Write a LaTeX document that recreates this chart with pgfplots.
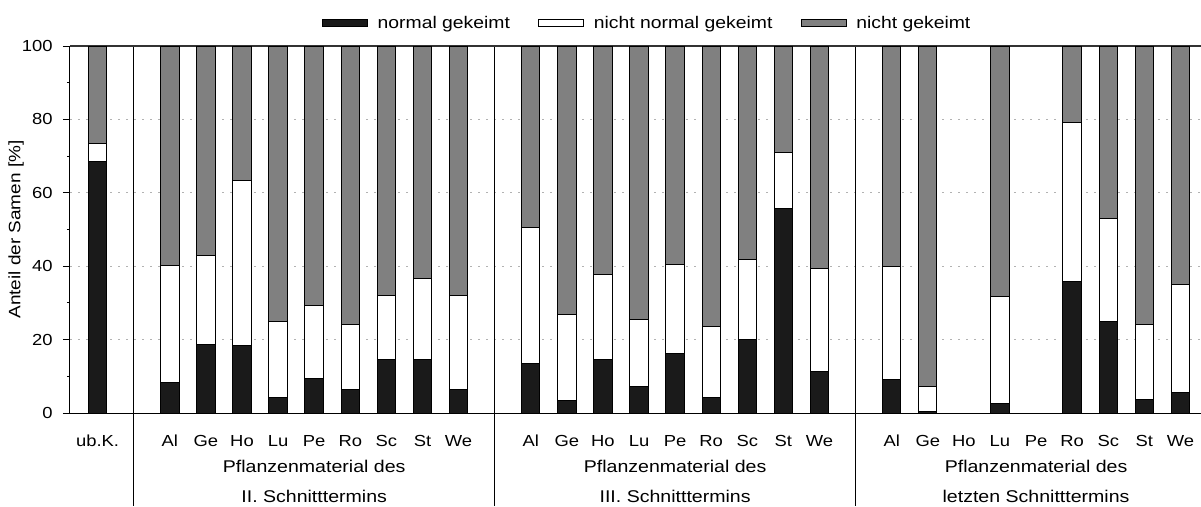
\documentclass[border=0pt]{standalone}
\usepackage{fontspec}
\setmainfont{Liberation Sans}[FakeStretch=1.15]
\usepackage{pgfplots}
\usepackage{pgfplotstable}
\pgfplotsset{compat=1.18}
\definecolor{cblack}{HTML}{1A1A1A}
\definecolor{cgray}{HTML}{808080}
\tikzset{grplabel/.style={anchor=base, font=\fontsize{10.2}{12}\selectfont}}

\pgfplotstableread{
x  normal nichtnormal nicht
0  68.5   4.8   26.7
2  8.4    31.8  59.8
3  18.7   24.2  57.1
4  18.5   44.9  36.6
5  4.3    20.5  75.2
6  9.3    20.1  70.6
7  6.3    17.9  75.8
8  14.5   17.4  68.1
9  14.5   22.1  63.4
10 6.3    25.6  68.1
12 13.5   37.1  49.4
13 3.3    23.5  73.2
14 14.5   23.2  62.3
15 7.1    18.3  74.6
16 16.3   24.2  59.5
17 4.2    19.3  76.5
18 20.0   21.8  58.2
19 55.7   15.4  28.9
20 11.3   28.1  60.6
22 9.0    31.0  60.0
23 0.45   6.85  92.7
25 2.7    29.0  68.3
27 35.7   43.4  20.9
28 25.0   28.1  46.9
29 3.7    20.4  75.9
30 5.7    29.3  65.0
}\datatable

\begin{document}
\begin{tikzpicture}[font=\fontsize{9.6}{11.5}\selectfont]
\begin{axis}[
  scale only axis,
  width=678.6pt, height=220.2pt,
  xmin=-0.765, xmax=30.57,
  ymin=0, ymax=100,
  ybar stacked,
  bar width=0.51,
  axis x line*=bottom,
  axis y line*=left,
  axis line style={black, line width=0.6pt},
  clip=false,
  xtick={0,2,3,4,5,6,7,8,9,10,12,13,14,15,16,17,18,19,20,22,23,24,25,26,27,28,29,30},
  xticklabels={ub.K.,Al,Ge,Ho,Lu,Pe,Ro,Sc,St,We,Al,Ge,Ho,Lu,Pe,Ro,Sc,St,We,Al,Ge,Ho,Lu,Pe,Ro,Sc,St,We},
  xtick style={draw=none},
  xticklabel style={anchor=base, inner sep=0pt, yshift=-15.6pt},
  ytick={0,20,40,60,80,100},
  minor y tick num=1,
  tick align=outside,
  major tick length=4.2pt,
  minor tick length=1.8pt,
  ytick style={black, line width=0.6pt},
  yticklabel style={anchor=east, inner sep=0pt, xshift=-6pt},
  /pgf/number format/assume math mode=true,
  ymajorgrids,
  grid style={gray!60, line width=0.5pt, dash pattern=on 1.2pt off 3.6pt},
  ylabel={Anteil der Samen [\%]},
  ylabel style={at={(axis description cs:-0.0477,0.5)}, anchor=center, inner sep=0pt,
    font=\fontsize{9.9}{11.5}\selectfont},
  legend columns=-1,
  legend style={draw=none, fill=none, at={(axis description cs:0.511,1.062)}, anchor=center,
    inner sep=0pt, font=\fontsize{10.1}{12}\selectfont,
    /tikz/every even column/.append style={column sep=15pt}},
  legend image code/.code={\draw[#1, line width=0.6pt] (0pt,-2.1pt) rectangle (27pt,2.1pt);
    \path[draw=none, fill=none] (0pt,0pt) -- (31pt,0pt);},
]
\addplot[fill=cblack, draw=black, line width=0.6pt] table[x=x, y=normal] {\datatable};
\addplot[fill=white, draw=black, line width=0.6pt] table[x=x, y=nichtnormal] {\datatable};
\addplot[fill=cgray, draw=black, line width=0.6pt] table[x=x, y=nicht] {\datatable};
\legend{normal gekeimt, nicht normal gekeimt, nicht gekeimt}

\draw[black!80, line width=0.8pt] (rel axis cs:0,1) -- (rel axis cs:1,1);
\draw[black, line width=0.9pt] (axis cs:1,100) -- ++(0pt,-276pt);
\draw[black, line width=0.9pt] (axis cs:11,100) -- ++(0pt,-276pt);
\draw[black, line width=0.9pt] (axis cs:21,100) -- ++(0pt,-276pt);

\node[grplabel] at ([yshift=-35.8pt]axis cs:6,0) {Pflanzenmaterial des};
\node[grplabel] at ([yshift=-53.8pt]axis cs:6,0) {II. Schnitttermins};
\node[grplabel] at ([yshift=-35.8pt]axis cs:16,0) {Pflanzenmaterial des};
\node[grplabel] at ([yshift=-53.8pt]axis cs:16,0) {III. Schnitttermins};
\node[grplabel] at ([yshift=-35.8pt]axis cs:26,0) {Pflanzenmaterial des};
\node[grplabel] at ([yshift=-53.8pt]axis cs:26,0) {letzten Schnitttermins};

\coordinate (ll) at (rel axis cs:0,0);
\coordinate (ur) at (rel axis cs:1,1);
\end{axis}
\pgfresetboundingbox
\useasboundingbox ([shift={(-42pt,-55.8pt)}]ll) rectangle ([shift={(0pt,27.6pt)}]ur);
\end{tikzpicture}
\end{document}
